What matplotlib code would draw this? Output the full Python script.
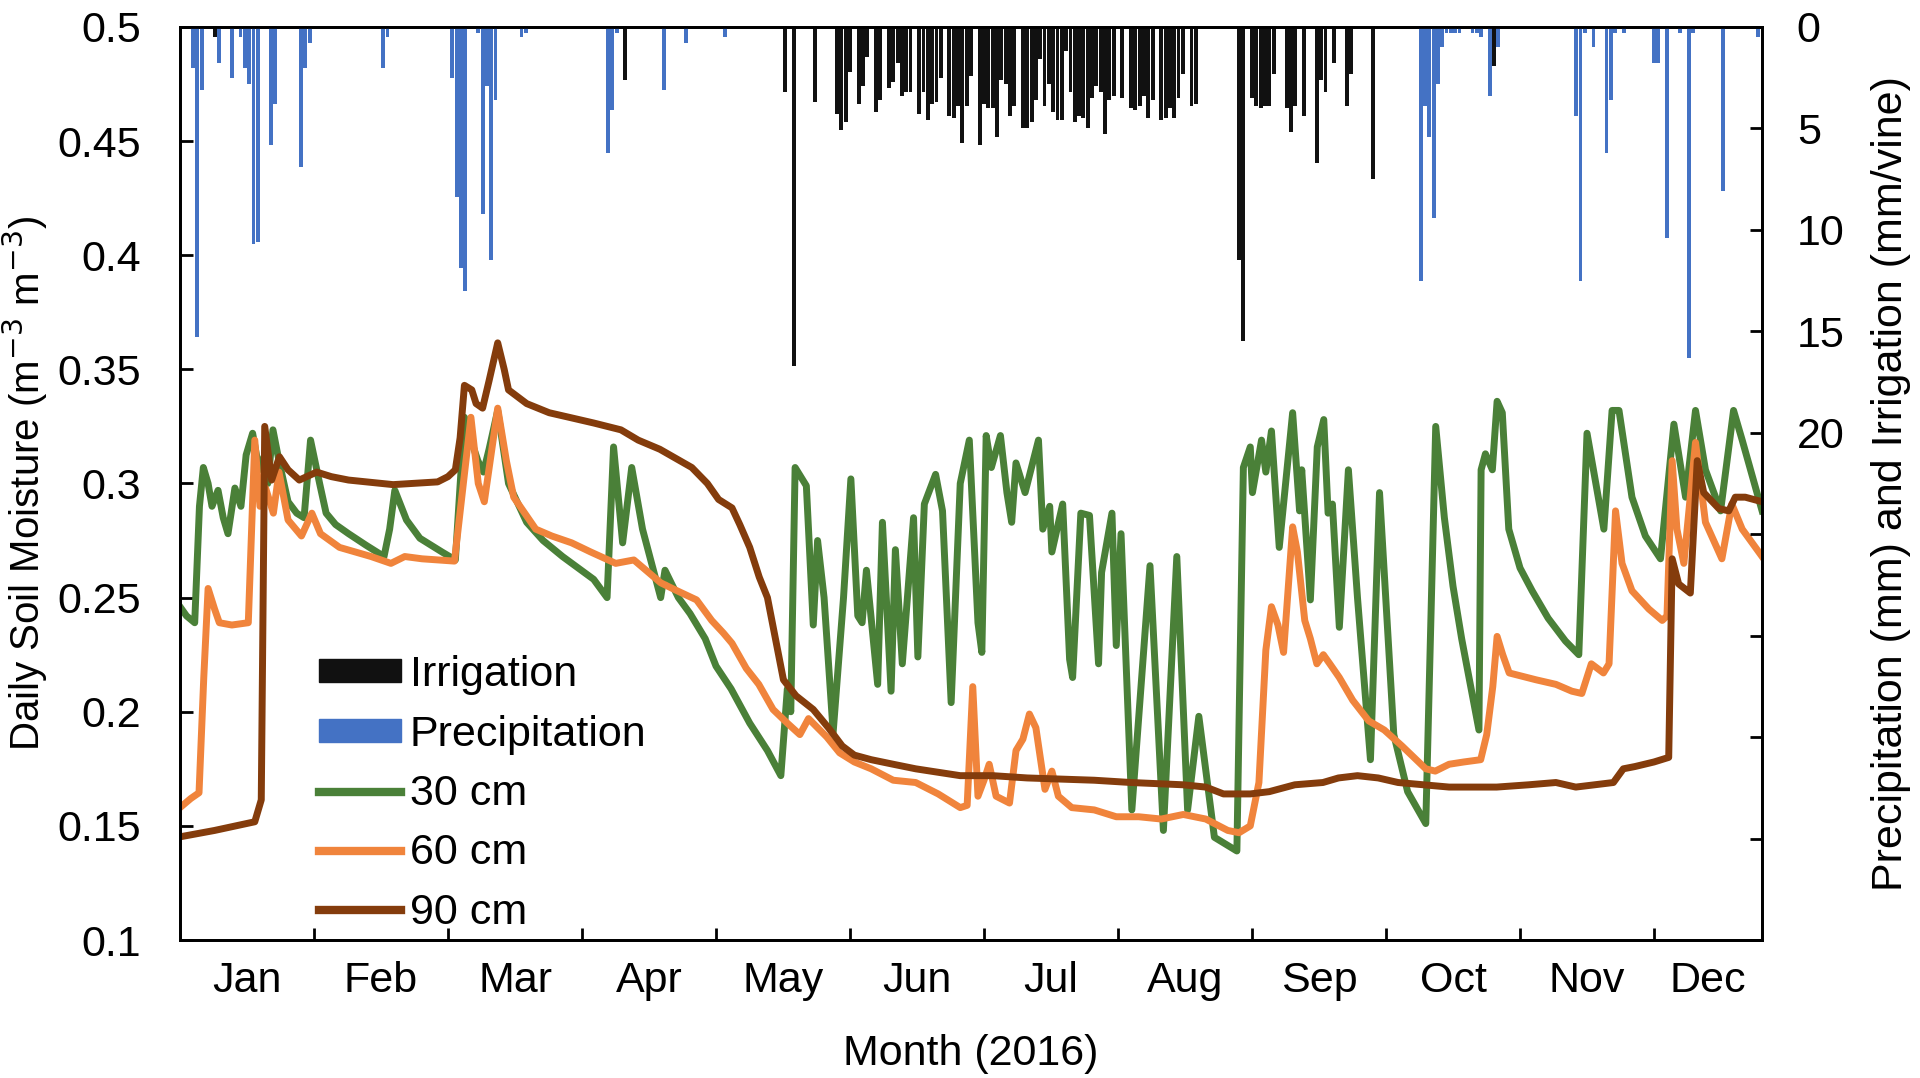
import matplotlib
matplotlib.use('Agg')
import matplotlib.pyplot as plt
from matplotlib.patches import Patch
from matplotlib.lines import Line2D

plt.rcParams['font.family'] = ['Liberation Sans', 'DejaVu Sans']

# ---- soil moisture (day of year, m3/m3), vertices ----
green_day = [0, 1.5, 3.4, 4.5, 5.4, 6.5, 7.4, 8.8, 10, 11.1, 12.7, 14.1, 15.3, 16.8, 18.3, 19.5, 20.3,
             21.5, 23, 25, 27, 28.7, 30.2, 32.3, 33.8, 36, 39, 43, 47.2, 48.5, 49.7, 52.4, 55.5, 60.6,
             63.7, 65.8, 67.5, 68.9, 70.2, 71.5, 73.5, 76, 80.2, 84, 88.5, 95.7, 98.8, 100.3, 102.4,
             104.5, 107, 111.2, 112.2, 115.3, 118, 121.5, 124, 127.5, 131.8, 135.9, 139, 140.5, 141.3,
             142.3, 144.9, 146.5, 147.5, 149, 151.1, 153.5, 155.2, 156.8, 157.8, 158.8, 161.4, 162.5,
             164.5, 165.5, 167.1, 169.7, 170.7, 172.2, 174.8, 176.4, 178.4, 180.5, 182.6, 184.6, 185.5,
             186.5, 187.7, 189.8, 191.3, 192.4, 193.4, 195.5, 198.6, 199.6, 201.2, 201.7, 204.2, 205.8,
             206.5, 208.4, 210.4, 212.5, 213.2, 215.6, 216.6, 217.7, 220.2, 224.4, 227.5, 230.6, 233.1,
             235.7, 239.3, 241.9, 244.5, 246, 247.6, 248.1, 250.2, 251.2, 252.5, 254.3, 257.4, 259,
             259.5, 261.5, 263.1, 264.6, 265.6, 266.6, 268.2, 270.3, 272.4, 275.4, 277.5, 280.8, 284,
             288.2, 290.5, 292.5, 294.5, 296.5, 298.5, 300.5, 301, 302, 303.6, 304.7, 305.9, 307.4, 310,
             312.8, 316.5, 320.5, 323.6, 325.5, 326.7, 329.4, 331.3, 332.9, 335.9, 339, 342.5, 345.6,
             348.3, 350.6, 352.9, 356.4, 359.4, 361.4, 366]
green_val = [0.246, 0.242, 0.239, 0.29, 0.307, 0.3, 0.29, 0.297, 0.285, 0.278, 0.298, 0.29, 0.3125, 0.322,
             0.306, 0.312, 0.3, 0.3235, 0.309, 0.292, 0.287, 0.285, 0.319, 0.3, 0.287, 0.282, 0.278, 0.273,
             0.268, 0.28, 0.297, 0.284, 0.276, 0.27, 0.2665, 0.329, 0.318, 0.31, 0.305, 0.315, 0.332, 0.3,
             0.283, 0.275, 0.268, 0.258, 0.25, 0.316, 0.274, 0.307, 0.28, 0.25, 0.262, 0.25, 0.243, 0.232,
             0.22, 0.21, 0.195, 0.183, 0.172, 0.21, 0.2, 0.307, 0.299, 0.238, 0.275, 0.25, 0.191, 0.25,
             0.302, 0.242, 0.239, 0.262, 0.212, 0.283, 0.209, 0.271, 0.221, 0.285, 0.224, 0.291, 0.304,
             0.288, 0.204, 0.3, 0.319, 0.239, 0.226, 0.321, 0.307, 0.321, 0.296, 0.283, 0.309, 0.296,
             0.319, 0.28, 0.29, 0.27, 0.291, 0.223, 0.215, 0.287, 0.286, 0.221, 0.261, 0.287, 0.229,
             0.278, 0.157, 0.264, 0.148, 0.268, 0.157, 0.198, 0.145, 0.142, 0.139, 0.307, 0.316, 0.296,
             0.319, 0.305, 0.323, 0.272, 0.331, 0.288, 0.306, 0.249, 0.316, 0.328, 0.287, 0.291, 0.237,
             0.306, 0.25, 0.179, 0.296, 0.19, 0.165, 0.151, 0.325, 0.285, 0.255, 0.232, 0.212, 0.192,
             0.306, 0.313, 0.306, 0.336, 0.331, 0.28, 0.263, 0.253, 0.241, 0.231, 0.225, 0.322, 0.309,
             0.28, 0.332, 0.332, 0.294, 0.277, 0.267, 0.326, 0.294, 0.332, 0.306, 0.288, 0.332, 0.319,
             0.288]

orange_day = [0, 2.5, 4.4, 5.5, 6.5, 8, 9.1, 12, 15.8, 17.3, 18.5, 19.8, 21.6, 22.9, 25, 28.1, 30.5, 32.5,
              36.9, 44.2, 48.8, 52, 56, 59.6, 63.5, 67.3, 69, 70.4, 73.5, 75.5, 77.2, 82.3, 86, 90.6, 95,
              100.8, 105, 111.2, 115, 119.5, 123, 125.7, 127.7, 131, 133.9, 137.2, 140.5, 143.4, 145.4,
              149.6, 152.6, 156, 159.9, 165, 170.2, 175.4, 180.5, 182.1, 183.4, 184.6, 186, 187.2, 188.8,
              191.9, 193.4, 195, 196.5, 198, 200.1, 201.7, 203.2, 206.3, 211.5, 216.6, 221.8, 227, 232.1,
              237.3, 242.4, 245, 247.6, 249.6, 251.2, 252.5, 254, 255.3, 257.4, 258.5, 260.2, 261.5, 263,
              264.5, 266, 268.2, 271.3, 275, 278.6, 282.7, 288.2, 290.4, 293.6, 297, 300.9, 302.3, 303.7,
              304.7, 306, 307.5, 313.7, 318.3, 322, 324.3, 326.5, 329.3, 330.6, 332.1, 333.6, 335.9,
              339.8, 342.9, 344, 345.2, 346.3, 347.9, 350.6, 352.9, 356.7, 359, 361.4, 366]
orange_val = [0.158, 0.162, 0.1645, 0.215, 0.254, 0.245, 0.239, 0.238, 0.239, 0.319, 0.29, 0.298, 0.287,
              0.305, 0.284, 0.277, 0.287, 0.278, 0.272, 0.268, 0.265, 0.268, 0.267, 0.2665, 0.266, 0.329,
              0.3, 0.292, 0.333, 0.31, 0.294, 0.28, 0.277, 0.274, 0.27, 0.265, 0.2665, 0.2565, 0.253,
              0.249, 0.24, 0.2345, 0.23, 0.219, 0.212, 0.201, 0.195, 0.19, 0.197, 0.189, 0.182, 0.178,
              0.175, 0.17, 0.169, 0.164, 0.158, 0.159, 0.211, 0.163, 0.17, 0.177, 0.163, 0.16, 0.183,
              0.188, 0.199, 0.193, 0.166, 0.174, 0.163, 0.158, 0.157, 0.154, 0.154, 0.153, 0.155, 0.153,
              0.148, 0.147, 0.15, 0.169, 0.227, 0.246, 0.238, 0.226, 0.281, 0.27, 0.24, 0.232, 0.221,
              0.225, 0.221, 0.215, 0.205, 0.196, 0.192, 0.185, 0.175, 0.174, 0.177, 0.178, 0.179, 0.19,
              0.211, 0.233, 0.225, 0.217, 0.214, 0.212, 0.209, 0.208, 0.221, 0.217, 0.221, 0.288, 0.265,
              0.253, 0.245, 0.24, 0.242, 0.31, 0.28, 0.265, 0.318, 0.283, 0.267, 0.291, 0.28, 0.268]

brown_day = [0, 8, 17.3, 18.8, 19.6, 21.2, 23, 25, 27.6, 31.6, 35, 39, 49.3, 59.6, 62, 63.7, 64.8, 65.8,
             67.5, 68.5, 70, 71.5, 73.5, 75, 76, 80.2, 85.4, 90, 95.7, 102, 106, 111, 118.4, 122, 124.6,
             127.7, 129.5, 131.8, 134, 135.9, 139.6, 142.5, 146.5, 150, 153.2, 156, 159.9, 165, 170.2,
             180.5, 188, 196, 211.5, 220, 232.1, 237.3, 241.4, 247.6, 252, 257.9, 264.4, 268, 272.4,
             277.2, 281.8, 293.6, 304.6, 312, 318.3, 322.9, 331.6, 333.9, 336.6, 341, 344.4, 345.2,
             346.7, 349.4, 351, 352.5, 356, 358.3, 359.8, 362.1, 366]
brown_val = [0.1452, 0.148, 0.1518, 0.1614, 0.325, 0.3015, 0.3117, 0.306, 0.3015, 0.305, 0.303, 0.3015,
             0.2995, 0.3007, 0.303, 0.306, 0.32, 0.343, 0.341, 0.335, 0.333, 0.345, 0.3616, 0.35, 0.341,
             0.335, 0.331, 0.329, 0.3265, 0.3235, 0.319, 0.315, 0.307, 0.3, 0.293, 0.2893, 0.282, 0.272,
             0.259, 0.25, 0.214, 0.207, 0.201, 0.193, 0.185, 0.181, 0.179, 0.177, 0.175, 0.172, 0.172,
             0.171, 0.17, 0.169, 0.168, 0.167, 0.164, 0.164, 0.165, 0.168, 0.169, 0.171, 0.172, 0.171,
             0.169, 0.167, 0.167, 0.168, 0.169, 0.167, 0.169, 0.175, 0.176, 0.178, 0.18, 0.267, 0.256,
             0.252, 0.31, 0.296, 0.289, 0.288, 0.294, 0.294, 0.292]

# ---- daily bars (mm), right axis ----
precip_day = [3, 4, 5, 9, 12, 14, 15, 16, 17, 18, 21, 22, 28, 29, 30, 47, 48, 63, 64, 65, 66, 69, 70, 71,
              72, 73, 79, 80, 99, 100, 101, 112, 117, 126, 287, 288, 289, 290, 291, 292, 293, 294, 295,
              296, 299, 300, 301, 303, 305, 323, 324, 325, 327, 330, 331, 332, 334, 341, 342, 344, 347,
              349, 350, 357, 365]
precip_mm = [2.0, 15.3, 3.1, 1.8, 2.5, 0.5, 2.0, 2.8, 10.7, 10.6, 5.8, 3.8, 6.9, 2.0, 0.8, 2.0, 0.5, 2.5,
             8.4, 11.9, 13.0, 0.3, 9.2, 2.9, 11.5, 3.6, 0.5, 0.3, 6.2, 4.1, 0.3, 3.1, 0.8, 0.5, 12.5, 3.9,
             5.4, 9.4, 2.8, 1.0, 0.3, 0.3, 0.3, 0.3, 0.3, 0.3, 0.5, 3.4, 1.0, 4.4, 12.5, 0.3, 1.0, 6.2,
             3.6, 0.3, 0.3, 1.8, 1.8, 10.4, 0.3, 16.3, 0.3, 8.1, 0.5]

irrig_day = [8, 103, 140, 142, 147, 152, 153, 154, 155, 157, 158, 159, 161, 162, 164, 165, 166, 167, 168,
             169, 171, 172, 173, 174, 175, 176, 178, 179, 180, 181, 182, 183, 185, 186, 187, 188, 189,
             190, 191, 192, 193, 195, 196, 197, 198, 199, 200, 201, 202, 203, 204, 205, 206, 207, 208,
             209, 210, 211, 212, 213, 214, 215, 216, 218, 220, 221, 222, 223, 224, 225, 227, 228, 229,
             230, 231, 232, 234, 235, 245, 246, 248, 249, 250, 251, 252, 253, 256, 257, 258, 260, 263,
             264, 265, 267, 270, 271, 276, 304]
irrig_mm = [0.5, 2.6, 3.2, 16.7, 3.7, 4.3, 5.1, 4.7, 2.2, 3.8, 2.9, 1.5, 4.2, 3.6, 3.0, 2.7, 1.8, 3.4, 3.2,
            3.2, 4.3, 3.2, 4.6, 3.8, 3.7, 2.5, 4.4, 4.5, 3.9, 5.7, 3.9, 2.4, 5.8, 3.8, 4.0, 4.0, 5.4, 2.6,
            2.8, 4.4, 3.9, 5.0, 5.0, 4.7, 3.6, 1.6, 3.9, 2.8, 4.2, 4.6, 4.6, 1.2, 3.2, 4.7, 4.4, 4.5, 5.0,
            3.5, 2.9, 3.2, 5.3, 3.6, 3.4, 3.5, 4.0, 4.1, 3.9, 3.4, 4.5, 3.6, 4.6, 4.5, 4.0, 4.5, 3.5, 2.3,
            3.9, 3.8, 11.5, 15.5, 3.5, 3.9, 4.0, 3.9, 3.9, 2.3, 4.0, 5.2, 3.9, 4.4, 6.7, 2.6, 3.2, 1.8,
            3.9, 2.3, 7.5, 1.9]

months = ['Jan', 'Feb', 'Mar', 'Apr', 'May', 'Jun', 'Jul', 'Aug', 'Sep', 'Oct', 'Nov', 'Dec']

green = '#4a8038'
orange = '#f0843c'
brown = '#843c0c'
blue = '#4472c4'
black = '#111111'
fs = 31

fig = plt.figure(figsize=(19.2, 10.78), dpi=100)
ax = fig.add_axes([0.09375, 0.128, 0.824, 0.847])
ax2 = ax.twinx()

ax.plot(green_day, green_val, color=green, lw=5, solid_joinstyle='round')
ax.plot(orange_day, orange_val, color=orange, lw=5, solid_joinstyle='round')
ax.plot(brown_day, brown_val, color=brown, lw=5, solid_joinstyle='round')

ax2.bar(precip_day, precip_mm, width=0.9, color=blue)
ax2.bar(irrig_day, irrig_mm, width=0.9, color=black)

# x axis: ticks at 31-day steps, month names centred between them
ax.set_xlim(0, 366)
ax.set_xticks([31 * k for k in range(1, 12)])
ax.set_xticklabels([])
ax.set_xticks([15.5 + 31 * k for k in range(11)] + [353.5], minor=True)
ax.set_xticklabels(months, minor=True)
ax.tick_params(axis='x', which='major', direction='in', length=9, width=2)
ax.tick_params(axis='x', which='minor', length=0, pad=15, labelsize=fs)
ax.set_xlabel('Month (2016)', fontsize=fs)
ax.xaxis.set_label_coords(0.5, -0.103)

ax.set_ylim(0.1, 0.5)
yt = [0.1, 0.15, 0.2, 0.25, 0.3, 0.35, 0.4, 0.45, 0.5]
ax.set_yticks(yt)
ax.set_yticklabels([f'{v:g}' for v in yt])
ax.tick_params(axis='y', direction='in', length=9, width=2, pad=28, labelsize=fs)
ax.set_ylabel('Daily Soil Moisture (m$^{-3}$ m$^{-3}$)', fontsize=29)
ax.yaxis.set_label_coords(-0.082, 0.5)

ax2.set_ylim(45, 0)
rt = list(range(0, 50, 5))
ax2.set_yticks(rt)
ax2.set_yticklabels([str(v) if v <= 20 else '' for v in rt])
ax2.tick_params(axis='y', direction='in', length=9, width=2, pad=25, labelsize=fs)
ax2.set_ylabel('Precipitation (mm) and Irrigation (mm/vine)', fontsize=fs)
ax2.yaxis.set_label_coords(1.069, 0.5)

for a in (ax, ax2):
    for s in a.spines.values():
        s.set_linewidth(2)

handles = [Patch(color=black), Patch(color=blue),
           Line2D([], [], color=green, lw=6), Line2D([], [], color=orange, lw=6),
           Line2D([], [], color=brown, lw=6)]
labels = ['Irrigation', 'Precipitation', '30 cm', '60 cm', '90 cm']
ax2.legend(handles, labels, loc='lower left', bbox_to_anchor=(0.088, 0.008), frameon=False,
           fontsize=fs, handlelength=1.9, handleheight=0.45, handletextpad=0.2, labelspacing=0.45,
           borderpad=0, borderaxespad=0)

fig.savefig('out.png', dpi=100)
